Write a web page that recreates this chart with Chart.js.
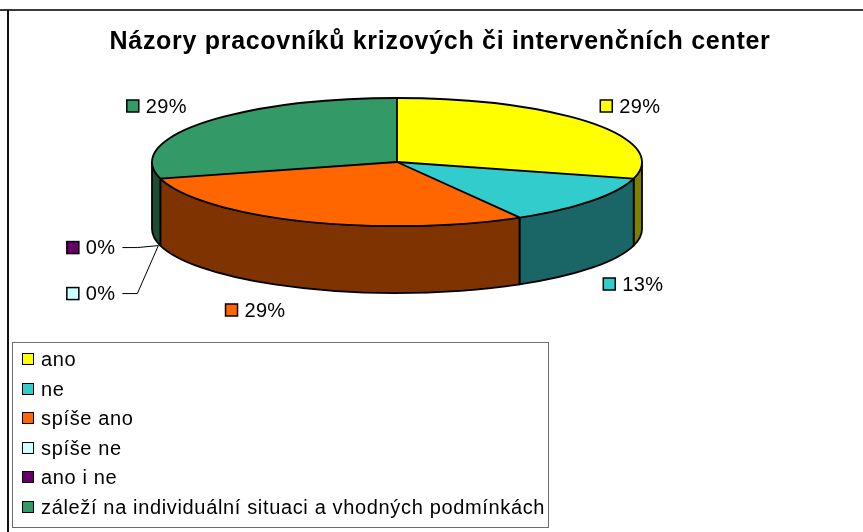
<!DOCTYPE html>
<html>
<head>
<meta charset="utf-8">
<script src="https://cdn.jsdelivr.net/npm/chart.js@4.4.1/dist/chart.umd.min.js"></script>
<style>
html,body{margin:0;padding:0;background:#fff;}
#wrap{position:relative;width:863px;height:532px;overflow:hidden;background:#fff;}
#c{position:absolute;left:0;top:0;}
#frameTop{position:absolute;left:0;top:9px;width:863px;height:2px;background:#3a3a3a;}
#frameLeft{position:absolute;left:7px;top:10px;width:2px;height:522px;background:#111;}
#legend{position:absolute;left:12px;top:342px;width:535px;height:184px;border:1px solid #6e6e6e;
  font-family:Arial,"Liberation Sans",sans-serif;font-size:20px;color:#000;}
.row{position:absolute;left:0;height:30px;line-height:30px;white-space:nowrap;letter-spacing:0.65px;}
.sw{position:absolute;left:9px;top:9px;width:12px;height:12px;box-sizing:border-box;border:1.5px solid #000;}
.tx{position:absolute;left:28px;top:0;}
</style>
</head>
<body>
<div id="wrap">
  <canvas id="c" width="863" height="532"></canvas>
  <div id="frameTop"></div>
  <div id="frameLeft"></div>
  <div id="legend"></div>
</div>
<script>
// ---- data ----
const chartTitle = 'Názory pracovníků krizových či intervenčních center';
const categories = ['ano', 'ne', 'spíše ano', 'spíše ne', 'ano i ne', 'záleží na individuální situaci a vhodných podmínkách'];
const counts = [7, 3, 7, 0, 0, 7];
const percentLabels = ['29%', '13%', '29%', '0%', '0%', '29%'];
const topColors = ['#FFFF00', '#33CCCC', '#FF6600', '#CCFFFF', '#660066', '#339966'];
const sideColors = ['#808000', '#1A6666', '#7F3300', '#668080', '#330033', '#1A4D33'];

// ---- layout constants ----
const FONT = 'Arial, "Liberation Sans", sans-serif';
const CX = 397, CY = 162, RX = 245, RY = 64, DEPTH = 67;
const labelNudge = [[0, 0], [3, -1], [-29, -4], [0, 0], [0, 0], [-7, 0]];
const LABEL_FONT = '20px ' + FONT;
const LABEL_SPACING = '0.3px';

// legend (HTML)
const legendEl = document.getElementById('legend');
categories.forEach((name, i) => {
  const row = document.createElement('div');
  row.className = 'row';
  row.style.top = (1 + i * 29.6) + 'px';
  const sw = document.createElement('div');
  sw.className = 'sw';
  sw.style.background = topColors[i];
  const tx = document.createElement('span');
  tx.className = 'tx';
  tx.textContent = name;
  row.appendChild(sw); row.appendChild(tx);
  legendEl.appendChild(row);
});

function setLabelFont(ctx) {
  ctx.font = LABEL_FONT;
  try { ctx.letterSpacing = LABEL_SPACING; } catch (e) {}
}
function drawLabel(ctx, text, color, left, cy) {
  ctx.save();
  ctx.fillStyle = color;
  ctx.fillRect(left, cy - 6, 12, 12);
  ctx.lineWidth = 1.5; ctx.strokeStyle = '#000';
  ctx.strokeRect(left, cy - 6, 12, 12);
  ctx.fillStyle = '#000';
  setLabelFont(ctx);
  ctx.textBaseline = 'middle'; ctx.textAlign = 'left';
  ctx.fillText(text, left + 19, cy + 1);
  ctx.restore();
}
function labelWidth(ctx, text) {
  ctx.save();
  setLabelFont(ctx);
  const w = 19 + ctx.measureText(text).width;
  ctx.restore();
  return w;
}

const titleSpacing = {
  id: 'titleSpacing',
  beforeDraw(chart) { try { chart.ctx.letterSpacing = '0.7px'; } catch (e) {} }
};

const pie3d = {
  id: 'pie3d',
  beforeDatasetsDraw(chart) {
    const ctx = chart.ctx;
    try { ctx.letterSpacing = '0px'; } catch (e) {}
    const meta = chart.getDatasetMeta(0);
    // side walls (front half only)
    meta.data.forEach((arc, i) => {
      const a1 = Math.max(arc.startAngle, 0);
      const a2 = Math.min(arc.endAngle, Math.PI);
      if (a2 - a1 <= 1e-6) return;
      ctx.save();
      ctx.beginPath();
      ctx.ellipse(CX, CY, RX, RY, 0, a1, a2, false);
      ctx.ellipse(CX, CY + DEPTH, RX, RY, 0, a2, a1, true);
      ctx.closePath();
      ctx.fillStyle = sideColors[i];
      ctx.fill();
      ctx.lineWidth = 1.8; ctx.strokeStyle = '#000'; ctx.lineJoin = 'round';
      ctx.stroke();
      ctx.restore();
    });
    // squash the library's circular pie into the ellipse of the top face
    const a0 = meta.data[0];
    ctx.save();
    ctx.translate(CX, CY);
    ctx.scale(RX / a0.outerRadius, RY / a0.outerRadius);
    ctx.translate(-a0.x, -a0.y);
  },
  afterDatasetsDraw(chart) {
    const ctx = chart.ctx;
    ctx.restore();
    const meta = chart.getDatasetMeta(0);
    // outlines of the top face
    ctx.save();
    ctx.lineWidth = 1.8; ctx.strokeStyle = '#000'; ctx.lineJoin = 'round';
    ctx.beginPath();
    ctx.ellipse(CX, CY, RX, RY, 0, 0, Math.PI * 2);
    ctx.stroke();
    meta.data.forEach((arc) => {
      if (arc.endAngle - arc.startAngle <= 1e-6) return;
      ctx.beginPath();
      ctx.moveTo(CX, CY);
      ctx.lineTo(CX + RX * Math.cos(arc.startAngle), CY + RY * Math.sin(arc.startAngle));
      ctx.stroke();
    });
    ctx.restore();

    // data labels
    const zeroList = [];
    meta.data.forEach((arc, i) => {
      const m = (arc.startAngle + arc.endAngle) / 2;
      if (counts[i] === 0) { zeroList.push({ i, m }); return; }
      const lx = CX + (RX + 49) * Math.cos(m) + labelNudge[i][0];
      const ly = CY + (RY + 28) * Math.sin(m) + (Math.sin(m) > 0 ? DEPTH : 0) + labelNudge[i][1];
      const w = labelWidth(ctx, percentLabels[i]);
      drawLabel(ctx, percentLabels[i], topColors[i], lx - w / 2, ly);
    });
    // zero-value slices: stacked to the left with leader lines
    zeroList.reverse().forEach((z, j) => {
      const px = CX + RX * Math.cos(z.m);
      const py = CY + RY * Math.sin(z.m) + DEPTH;
      const y = py + 2 + j * 46;
      ctx.save();
      ctx.lineWidth = 1; ctx.strokeStyle = '#000';
      ctx.beginPath();
      ctx.moveTo(px - 2, py);
      ctx.lineTo(px - 23, y);
      ctx.lineTo(px - 38, y);
      ctx.stroke();
      ctx.restore();
      const w = labelWidth(ctx, percentLabels[z.i]);
      drawLabel(ctx, percentLabels[z.i], topColors[z.i], px - 45 - w, y);
    });
  }
};

new Chart(document.getElementById('c'), {
  type: 'pie',
  data: {
    labels: categories,
    datasets: [{ data: counts, backgroundColor: topColors, borderWidth: 0 }]
  },
  options: {
    responsive: false,
    animation: false,
    events: [],
    layout: { padding: { left: 17, right: 0, top: 0, bottom: 200 } },
    plugins: {
      legend: { display: false },
      tooltip: { enabled: false },
      title: {
        display: true,
        text: chartTitle,
        color: '#000',
        font: { family: FONT, size: 25, weight: 'bold' },
        padding: { top: 27, bottom: 10 }
      }
    }
  },
  plugins: [titleSpacing, pie3d]
});
</script>
</body>
</html>
